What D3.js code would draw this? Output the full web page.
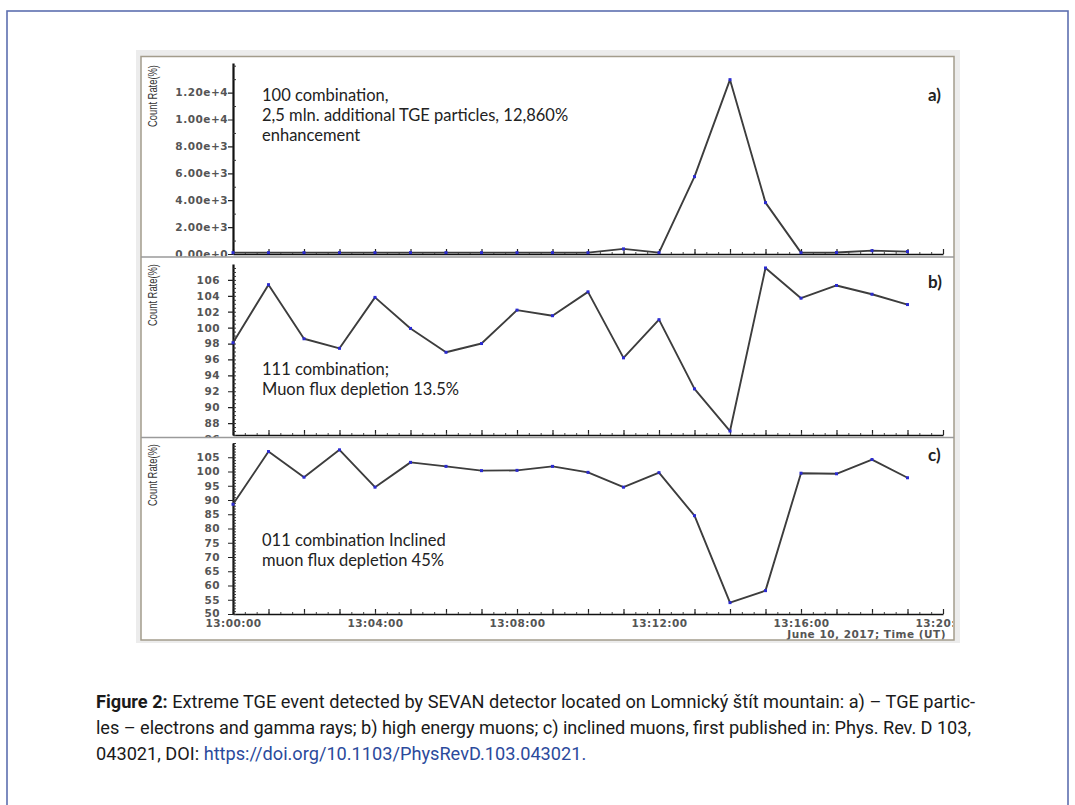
<!DOCTYPE html>
<html>
<head>
<meta charset="utf-8">
<script src="https://cdn.jsdelivr.net/npm/d3@7"></script>
<style>
  body { margin: 0; background: #fff; }
  svg { display: block; }
</style>
</head>
<body>
<svg id="fig" width="1075" height="805"></svg>
<script>
// one reading per minute, 13:00 - 13:19 UT, June 10 2017
var times = ["13:00", "13:01", "13:02", "13:03", "13:04", "13:05", "13:06", "13:07", "13:08", "13:09",
             "13:10", "13:11", "13:12", "13:13", "13:14", "13:15", "13:16", "13:17", "13:18", "13:19"];
var tgeRate = [100, 100, 100, 100, 100, 100, 100, 100, 100, 100,
               100, 380, 100, 5750, 12960, 3820, 100, 110, 250, 180];
var muonRate = [98.1, 105.4, 98.6, 97.4, 103.8, 99.9, 96.9, 98.0, 102.2, 101.5,
                104.5, 96.2, 101.0, 92.3, 87.0, 107.5, 103.7, 105.3, 104.2, 102.9];
var inclinedRate = [88.5, 107.0, 98.0, 107.6, 94.5, 103.2, 101.8, 100.3, 100.4, 101.8,
                    99.7, 94.5, 99.6, 84.5, 54.0, 58.2, 99.4, 99.2, 104.2, 97.8];

var tgeTicks = [0, 2000, 4000, 6000, 8000, 10000, 12000];
var muonTicks = [86, 88, 90, 92, 94, 96, 98, 100, 102, 104, 106];
var inclinedTicks = [50, 55, 60, 65, 70, 75, 80, 85, 90, 95, 100, 105];
var timeTicks = ["13:00", "13:04", "13:08", "13:12", "13:16", "13:20"];

var tgeNote = ["100 combination,", "2,5 mln. additional TGE particles, 12,860%", "enhancement"];
var muonNote = ["111 combination;", "Muon flux depletion 13.5%"];
var inclinedNote = ["011 combination Inclined", "muon flux depletion 45%"];
var panelTags = ["a)", "b)", "c)"];

var parseTime = d3.utcParse("%H:%M");
var svg = d3.select('#fig');
var defs = svg.append('defs');

// page frame
svg.append('rect')
    .attr('x', 7).attr('y', 11).attr('width', 1061).attr('height', 830)
    .style('fill', 'none').style('stroke', '#5d6fb0').style('stroke-width', 1.6);

// grey backing of the figure + thin frame
svg.append('rect')
    .attr('x', 136).attr('y', 50).attr('width', 824).attr('height', 593)
    .style('fill', '#ececec');
svg.append('rect')
    .attr('x', 141).attr('y', 56.5).attr('width', 813).attr('height', 583.5)
    .style('fill', '#fff').style('stroke', '#a39c8c').style('stroke-width', 1.5);

function addClip(id, y0, y1) {
    defs.append('clipPath').attr('id', id).append('rect')
        .attr('x', 142).attr('y', y0).attr('width', 811).attr('height', y1 - y0);
}

function tickText(sel) {
    sel.style('font-family', 'DejaVu Sans').style('font-weight', 'bold')
        .style('font-size', '10.5px').style('letter-spacing', '0.5px').style('fill', '#555');
}

var x = d3.scaleUtc()
    .domain([parseTime("13:00"), parseTime("13:20")])
    .range([233, 943]);
var minuteTicks = d3.utcMinute.range(parseTime("13:00"), d3.utcMinute.offset(parseTime("13:20"), 1));
var secondTicks = d3.utcSecond.every(20).range(parseTime("13:00"), parseTime("13:20"));

var panels = [
    {id: 'pa', values: tgeRate, domain: [0, 14200], range: [254, 63], clip: [57.5, 256.5],
     ticks: tgeTicks, minor: d3.range(1000, 14001, 2000).concat([14000]), fmt: d3.format('.2e'), pad: 0,
     note: tgeNote, noteY: 101, labelY: 96, tagY: 101},
    {id: 'pb', values: muonRate, domain: [86.5, 108], range: [435, 264], clip: [257.5, 437],
     ticks: muonTicks, minor: d3.range(86.5, 108, 0.5), fmt: d3.format('d'), pad: 8,
     note: muonNote, noteY: 375, labelY: 295, tagY: 288},
    {id: 'pc', values: inclinedRate, domain: [50, 110], range: [614, 443], clip: [438, 639.5],
     ticks: inclinedTicks, minor: d3.range(50, 110.5, 1), fmt: d3.format('d'), pad: 8,
     note: inclinedNote, noteY: 546, labelY: 475, tagY: 461}
];

panels.forEach(function (p, i) {
    addClip(p.id, p.clip[0], p.clip[1]);
    var g = svg.append('g').attr('clip-path', 'url(#' + p.id + ')');
    var y = d3.scaleLinear().domain(p.domain).range(p.range);
    var base = p.range[0];

    // time axis: minute ticks and 20 s ticks pointing up
    var xa = g.append('g').attr('transform', 'translate(0,' + base + ')')
        .call(d3.axisBottom(x).tickValues(minuteTicks).tickSizeInner(-5).tickSizeOuter(0).tickFormat(''));
    xa.select('.domain').style('stroke', '#111').style('stroke-width', 1.5);
    xa.selectAll('.tick line').style('stroke', '#222').style('stroke-width', 1.2);
    var xm = g.append('g').attr('transform', 'translate(0,' + base + ')')
        .call(d3.axisBottom(x).tickValues(secondTicks).tickSizeInner(-2).tickSizeOuter(0).tickFormat(''));
    xm.select('.domain').remove();
    xm.selectAll('.tick line').style('stroke', '#444');

    if (i == 2) {
        var xl = g.append('g').attr('transform', 'translate(0,' + base + ')')
            .call(d3.axisBottom(x).tickValues(timeTicks.map(parseTime)).tickSize(0).tickPadding(6)
                .tickFormat(d3.utcFormat('%H:%M:%S')));
        xl.select('.domain').remove();
        xl.selectAll('text').call(tickText);
        g.append('text')
            .attr('x', 946).attr('y', 638).attr('text-anchor', 'end')
            .call(tickText)
            .text('June 10, 2017; Time (UT)');
    }

    // value axis
    var ya = g.append('g').attr('transform', 'translate(233,0)')
        .call(d3.axisLeft(y).tickValues(p.ticks).tickSize(5).tickSizeOuter(0).tickPadding(p.pad).tickFormat(p.fmt));
    ya.select('.domain').style('stroke', '#111').style('stroke-width', 2.2);
    ya.selectAll('.tick line').style('stroke', '#222').style('stroke-width', 1.2);
    ya.selectAll('text').call(tickText);
    if (i == 2) ya.selectAll('text').filter(function (d) { return d == 50; }).attr('dy', '0.2em');
    var ym = g.append('g').attr('transform', 'translate(233,0)')
        .call(d3.axisRight(y).tickValues(p.minor).tickSize(3).tickSizeOuter(0).tickFormat(''));
    ym.select('.domain').remove();
    ym.selectAll('.tick line').style('stroke', '#333');

    g.append('text')
        .attr('transform', 'translate(157,' + p.labelY + ') rotate(-90)')
        .attr('text-anchor', 'middle')
        .style('font-family', 'Liberation Sans Narrow, Liberation Sans, sans-serif')
        .style('font-size', '12.5px').style('fill', '#333')
        .attr('textLength', 62).attr('lengthAdjust', 'spacingAndGlyphs')
        .text('Count Rate(%)');

    // series
    var pts = p.values.map(function (v, k) { return {t: parseTime(times[k]), v: v}; });
    var line = d3.line().x(function (d) { return x(d.t); }).y(function (d) { return y(d.v); });
    g.append('path').datum(pts)
        .attr('d', line)
        .style('fill', 'none').style('stroke', '#3d3d3d').style('stroke-width', 1.9)
        .style('stroke-linejoin', 'round');
    g.selectAll('rect.pt').data(pts).enter().append('rect')
        .attr('class', 'pt')
        .attr('x', function (d) { return x(d.t) - 1.5; })
        .attr('y', function (d) { return y(d.v) - 1.5; })
        .attr('width', 3).attr('height', 3)
        .style('fill', '#2b2bd0');

    // annotation and panel tag
    p.note.forEach(function (s, k) {
        g.append('text')
            .attr('x', 262).attr('y', p.noteY + k * 20)
            .style('font-family', 'Lato, sans-serif').style('font-size', '16.5px').style('fill', '#222')
            .text(s);
    });
    g.append('text')
        .attr('x', 928).attr('y', p.tagY)
        .style('font-family', 'Lato, sans-serif').style('font-weight', 'bold')
        .style('font-size', '17px').style('fill', '#222')
        .text(panelTags[i]);
});

// separators between the panels
[257, 437.5].forEach(function (yy) {
    svg.append('line')
        .attr('x1', 141).attr('x2', 954).attr('y1', yy).attr('y2', yy)
        .style('stroke', '#9a9a9a').style('stroke-width', 1.3);
});

// caption: size the font so the first line fills 96..975, justify line 2
var capFont = 'Roboto, sans-serif';
var capLeft = 96, capRight = 975;
var capLines = [
    'Extreme TGE event detected by SEVAN detector located on Lomnický štít mountain: a) – TGE partic-',
    'les – electrons and gamma rays; b) high energy muons; c) inclined muons, first published in: Phys. Rev. D 103,'
];
var probe = svg.append('text').style('font-family', capFont).style('font-size', '16px');
probe.append('tspan').style('font-weight', 'bold').text('Figure 2: ');
probe.append('tspan').text(capLines[0]);
var capSize = 16 * (capRight - capLeft) / probe.node().getComputedTextLength();
probe.remove();

function capText(yy) {
    return svg.append('text').attr('x', capLeft).attr('y', yy)
        .style('font-family', capFont).style('font-size', capSize + 'px').style('fill', '#1a1a1a');
}
var cap1 = capText(708).style('font-weight', 'bold').text('Figure 2:');
var w1 = cap1.node().getComputedTextLength() + capSize * 0.25;
capText(708).attr('x', capLeft + w1)
    .attr('textLength', capRight - capLeft - w1).attr('lengthAdjust', 'spacing')
    .text(capLines[0]);
capText(734).attr('textLength', capRight - capLeft - 4).attr('lengthAdjust', 'spacing')
    .text(capLines[1]);
var cap3 = capText(760);
cap3.append('tspan').text('043021, DOI: ');
cap3.append('tspan').style('fill', '#2b4a9c').text('https://doi.org/10.1103/PhysRevD.103.043021.');
</script>
</body>
</html>
